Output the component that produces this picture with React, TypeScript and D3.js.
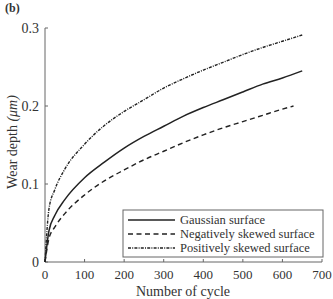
import React from 'react';
import * as d3 from 'd3';

// values
const cycles = [0, 10, 25, 50, 100, 150, 200, 250, 300, 350, 400, 450, 500, 550, 600, 650];
const gaussian = [0, 0.040, 0.060, 0.080, 0.108, 0.128, 0.146, 0.161, 0.174, 0.187, 0.198, 0.208, 0.218, 0.228, 0.236, 0.245];
const positive = [0, 0.068, 0.093, 0.119, 0.151, 0.175, 0.193, 0.208, 0.223, 0.235, 0.246, 0.256, 0.266, 0.275, 0.283, 0.291];
const negCycles = [0, 10, 25, 50, 100, 150, 200, 250, 300, 350, 400, 450, 500, 550, 600, 628];
const negative = [0, 0.030, 0.045, 0.062, 0.086, 0.104, 0.118, 0.131, 0.142, 0.153, 0.163, 0.172, 0.180, 0.188, 0.196, 0.200];

const xTicks = [0, 100, 200, 300, 400, 500, 600, 700];
const yTicks = [0, 0.1, 0.2, 0.3];

const legendItems = [
    { label: 'Gaussian surface', dash: 'none' },
    { label: 'Negatively skewed surface', dash: '5,3.5' },
    { label: 'Positively skewed surface', dash: '3,1.2,1,1.2' }
];

const W = 333, H = 299;
const font = '"Liberation Serif", "Times New Roman", serif';

const App = () => {
    const xScale = d3.scaleLinear().domain([0, 700]).range([45, 322]);
    const yScale = d3.scaleLinear().domain([0, 0.3]).range([262, 28]);

    const line = d3.line<[number, number]>()
        .x(d => xScale(d[0]))
        .y(d => yScale(d[1]))
        .curve(d3.curveMonotoneX);

    const series = [
        { pts: cycles.map((c, i) => [c, gaussian[i]] as [number, number]), dash: 'none', w: 1.5 },
        { pts: negCycles.map((c, i) => [c, negative[i]] as [number, number]), dash: '5,3.5', w: 1.4 },
        { pts: cycles.map((c, i) => [c, positive[i]] as [number, number]), dash: '3,1.2,1,1.2', w: 1.4 }
    ];

    const axisColor = '#666';
    const textColor = '#333';

    return (
        <svg width={W} height={H} style={{ position: 'absolute', left: 0, top: 0, background: '#fff' }}
            fontFamily={font}>
            <text x={5} y={12} fontSize={12} fontWeight="bold" fill={textColor}>(b)</text>

            {/* axes */}
            <line x1={xScale(0)} x2={xScale(700)} y1={yScale(0)} y2={yScale(0)} stroke={axisColor} strokeWidth={1} />
            <line x1={xScale(0)} x2={xScale(0)} y1={yScale(0)} y2={yScale(0.3)} stroke={axisColor} strokeWidth={1} />
            {xTicks.map(t => (
                <g key={'x' + t}>
                    <line x1={xScale(t)} x2={xScale(t)} y1={yScale(0)} y2={yScale(0) - 3} stroke={axisColor} />
                    <text x={xScale(t)} y={yScale(0) + 17} fontSize={13} textAnchor="middle" fill={textColor}>{t}</text>
                </g>
            ))}
            {yTicks.map(t => (
                <g key={'y' + t}>
                    <line x1={xScale(0)} x2={xScale(0) + 3} y1={yScale(t)} y2={yScale(t)} stroke={axisColor} />
                    <text x={xScale(0) - 6} y={yScale(t)} dy="0.35em" fontSize={14} textAnchor="end" fill={textColor}>{t === 0 ? '0' : t.toFixed(1)}</text>
                </g>
            ))}

            {/* curves */}
            {series.map((s, i) => (
                <path key={i} d={line(s.pts) || ''} fill="none" stroke="#222" strokeWidth={s.w} strokeDasharray={s.dash} />
            ))}

            {/* legend */}
            <g>
                <rect x={123} y={210} width={200} height={47} fill="#fff" stroke={axisColor} strokeWidth={1} />
                {legendItems.map((d, i) => (
                    <g key={d.label} transform={`translate(0, ${220 + i * 14})`}>
                        <line x1={128} x2={175} y1={0} y2={0} stroke="#222" strokeWidth={1.4} strokeDasharray={d.dash} />
                        <text x={180} y={0} dy="0.35em" fontSize={12.5} fill={textColor}>{d.label}</text>
                    </g>
                ))}
            </g>

            {/* axis titles */}
            <text x={183} y={296} fontSize={14} textAnchor="middle" fill={textColor}>Number of cycle</text>
            <text transform={`translate(17, 142) rotate(-90)`} fontSize={14} textAnchor="middle" fill={textColor}>
                Wear depth <tspan fontStyle="italic">(μm)</tspan>
            </text>
        </svg>
    );
};

export default App;
